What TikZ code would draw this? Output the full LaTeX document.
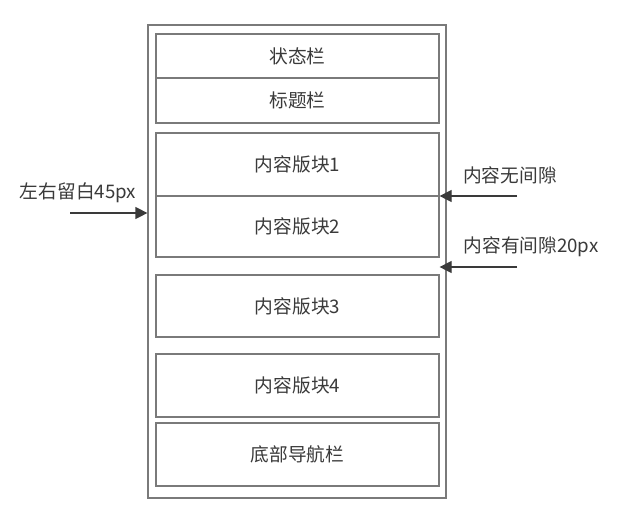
\documentclass[tikz,border=0pt]{standalone}
\usepackage{fontspec}
\setmainfont{Noto Sans CJK SC}
\usepackage{tikz}
\usetikzlibrary{arrows.meta, positioning}
\definecolor{vien}{HTML}{7A7A7A}
\definecolor{chu}{HTML}{3A3A3A}

\begin{document}
\begin{tikzpicture}[x=1pt, y=-1pt,
    hop/.style={draw=vien, line width=1.2pt, minimum width=283pt, inner sep=0pt, text=chu, font=\fontsize{18.7}{21}\selectfont},
    nhan/.style={text=chu, inner sep=0pt, font=\fontsize{18.7}{21}\selectfont},
    muiten/.style={draw=chu, line width=1.2pt, -{Triangle[length=12pt,width=12pt]}}]
    % 1. Khung nen
    \fill[white] (0,0) rectangle (623,512);
    \useasboundingbox (0,0) rectangle (623,512);
    \node[draw=vien, line width=1.2pt, minimum width=298pt, minimum height=473pt] (khung) at (297,261.5) {};

    % 2. Cac o noi dung
    \node[hop, minimum height=44pt] (trangthai) at (297.5,56) {状态栏};
    \node[hop, minimum height=45pt] (tieude) at (297.5,100.5) {标题栏};
    \node[hop, minimum height=63pt] (nd1) at (297.5,164.5) {内容版块1};
    \node[hop, minimum height=61pt] (nd2) at (297.5,226.5) {内容版块2};
    \node[hop, minimum height=62pt] (nd3) at (297.5,306) {内容版块3};
    \node[hop, minimum height=63pt] (nd4) at (297.5,385.5) {内容版块4};
    \node[hop, minimum height=63pt] (dieuhuong) at (297.5,454.5) {底部导航栏};

    % 3. Mui ten va chu thich
    \coordinate (trai) at (70,213);
    \coordinate (phai1) at (517,196);
    \coordinate (phai2) at (517,267);
    \draw[muiten] (trai) -- (trai -| khung.west);
    \draw[muiten] (phai1) -- (phai1 -| nd1.east);
    \draw[muiten] (phai2) -- (phai2 -| nd2.east);
    \node[nhan] (letrai) at (78,193) {左右留白45px};
    \node[nhan] (khongho) at (510,175) {内容无间隙};
    \node[nhan] (coho) at (531,247) {内容有间隙20px};
\end{tikzpicture}
\end{document}
